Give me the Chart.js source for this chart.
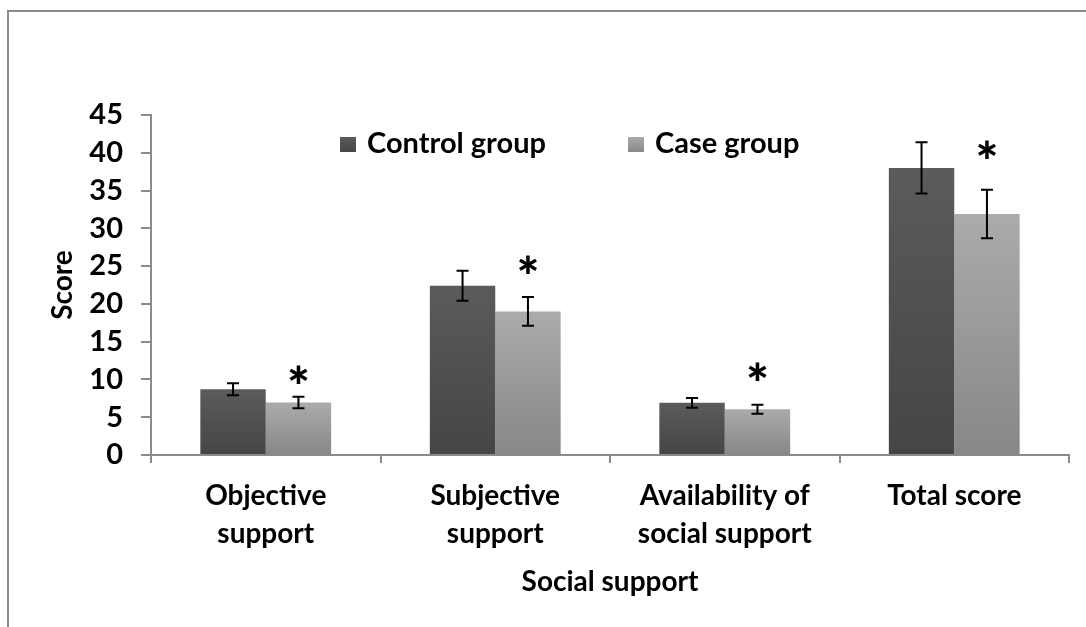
<!DOCTYPE html>
<html>
<head>
<meta charset="utf-8">
<script src="https://cdn.jsdelivr.net/npm/chart.js@4/dist/chart.umd.min.js"></script>
<style>
    html, body { margin: 0; padding: 0; background: #ffffff; }
    canvas { display: block; }
</style>
</head>
<body>
<canvas id="chart" width="1086" height="627"></canvas>
<script>
// ================= DATA =================
const categories = [["Objective", "support"], ["Subjective", "support"], ["Availability of", "social support"], ["Total score"]];
const controlValues = [8.7, 22.4, 6.9, 38.0];
const controlErrors = [0.8, 2.0, 0.65, 3.4];
const caseValues = [6.95, 19.0, 6.05, 31.9];
const caseErrors = [0.75, 1.9, 0.6, 3.2];
// where the "*" marks sit (in score units)
const starPositions = [10.3, 24.8, 10.7, 40.0];
const yTicks = [0, 5, 10, 15, 20, 25, 30, 35, 40, 45];

const FONT = "Lato";

// ================= HELPERS =================
function barGradient(ctx, top, bottom) {
    return function (context) {
        const chart = context.chart;
        const y = chart.scales.y;
        if (!y || context.parsed === undefined) return bottom;
        const y0 = y.getPixelForValue(0);
        const y1 = y.getPixelForValue(context.parsed.y);
        if (!isFinite(y0) || !isFinite(y1) || y0 === y1) return bottom;
        const g = chart.ctx.createLinearGradient(0, y1, 0, y0);
        g.addColorStop(0, top);
        g.addColorStop(1, bottom);
        return g;
    };
}

// Error bars + significance stars
const extrasPlugin = {
    id: "extras",
    afterDatasetsDraw(chart) {
        const ctx = chart.ctx;
        const y = chart.scales.y;
        const errs = [controlErrors, caseErrors];
        ctx.save();
        ctx.strokeStyle = "#000000";
        ctx.lineWidth = 2;
        chart.data.datasets.forEach((ds, di) => {
            const meta = chart.getDatasetMeta(di);
            meta.data.forEach((bar, i) => {
                const v = ds.data[i];
                const e = errs[di][i];
                const top = y.getPixelForValue(v + e);
                const bot = y.getPixelForValue(v - e);
                ctx.beginPath();
                ctx.moveTo(bar.x, top);
                ctx.lineTo(bar.x, bot);
                ctx.moveTo(bar.x - 6, top);
                ctx.lineTo(bar.x + 6, top);
                ctx.moveTo(bar.x - 6, bot);
                ctx.lineTo(bar.x + 6, bot);
                ctx.stroke();
            });
        });
        // stars above the case group
        const caseMeta = chart.getDatasetMeta(1);
        ctx.fillStyle = "#000000";
        ctx.font = "900 54px " + FONT;
        ctx.textAlign = "center";
        ctx.textBaseline = "middle";
        caseMeta.data.forEach((bar, i) => {
            ctx.fillText("*", bar.x, y.getPixelForValue(starPositions[i]) + 11);
        });
        ctx.restore();
    },
    afterDraw(chart) {
        const ctx = chart.ctx;
        ctx.save();
        // frame
        ctx.strokeStyle = "#8a8a8a";
        ctx.lineWidth = 2;
        ctx.beginPath();
        ctx.moveTo(8, 700);
        ctx.lineTo(8, 11);
        ctx.lineTo(1100, 11);
        ctx.stroke();
        // legend
        const items = [
            { x: 340, color: ["#5a5a5a", "#464646"] },
            { x: 628, color: ["#aaaaaa", "#888888"] }
        ];
        ctx.font = "bold 29px " + FONT;
        ctx.textAlign = "left";
        ctx.textBaseline = "middle";
        items.forEach((it, i) => {
            const g = ctx.createLinearGradient(0, 137, 0, 152);
            g.addColorStop(0, it.color[0]);
            g.addColorStop(1, it.color[1]);
            ctx.fillStyle = g;
            ctx.fillRect(it.x, 137, 16, 15);
            ctx.fillStyle = "#000000";
            ctx.fillText(chart.data.datasets[i].label, it.x + 27, 144);
        });
        ctx.restore();
    }
};

// ================= CHART =================
const ctx = document.getElementById("chart").getContext("2d");
new Chart(ctx, {
    type: "bar",
    data: {
        labels: categories,
        datasets: [
            {
                label: "Control group",
                data: controlValues,
                backgroundColor: barGradient(ctx, "#5b5b5b", "#454545"),
                borderWidth: 0,
                categoryPercentage: 0.57,
                barPercentage: 1.0
            },
            {
                label: "Case group",
                data: caseValues,
                backgroundColor: barGradient(ctx, "#ababab", "#878787"),
                borderWidth: 0,
                categoryPercentage: 0.57,
                barPercentage: 1.0
            }
        ]
    },
    options: {
        responsive: false,
        devicePixelRatio: 1,
        animation: false,
        layout: { padding: { top: 115, right: 17, left: 0, bottom: 0 } },
        plugins: {
            legend: { display: false },
            tooltip: { enabled: false }
        },
        scales: {
            x: {
                grid: {
                    offset: true,
                    drawOnChartArea: false,
                    drawTicks: true,
                    tickLength: 8,
                    color: "#8a8a8a",
                    lineWidth: 2
                },
                border: { color: "#8a8a8a", width: 2 },
                ticks: {
                    color: "#000000",
                    font: { family: FONT, size: 28, weight: "bold", lineHeight: 1.36 },
                    padding: 14,
                    maxRotation: 0
                },
                title: {
                    display: true,
                    text: "Social support",
                    color: "#000000",
                    font: { family: FONT, size: 28, weight: "bold" },
                    padding: { top: 0, bottom: 28 }
                },
                afterFit(scale) { scale.height = 172; }
            },
            y: {
                min: 0,
                max: 45,
                afterBuildTicks(scale) { scale.ticks = yTicks.map(v => ({ value: v })); },
                grid: {
                    drawOnChartArea: false,
                    drawTicks: true,
                    tickLength: 10,
                    color: "#8a8a8a",
                    lineWidth: 2
                },
                border: { color: "#8a8a8a", width: 2 },
                ticks: {
                    color: "#000000",
                    font: { family: FONT, size: 29, weight: "bold" },
                    padding: 18,
                    autoSkip: false
                },
                title: {
                    display: true,
                    text: "Score",
                    color: "#000000",
                    font: { family: FONT, size: 28, weight: "bold" },
                    padding: { top: 46, bottom: 0 }
                },
                afterFit(scale) { scale.width = 151; }
            }
        }
    },
    plugins: [extrasPlugin]
});
</script>
</body>
</html>
